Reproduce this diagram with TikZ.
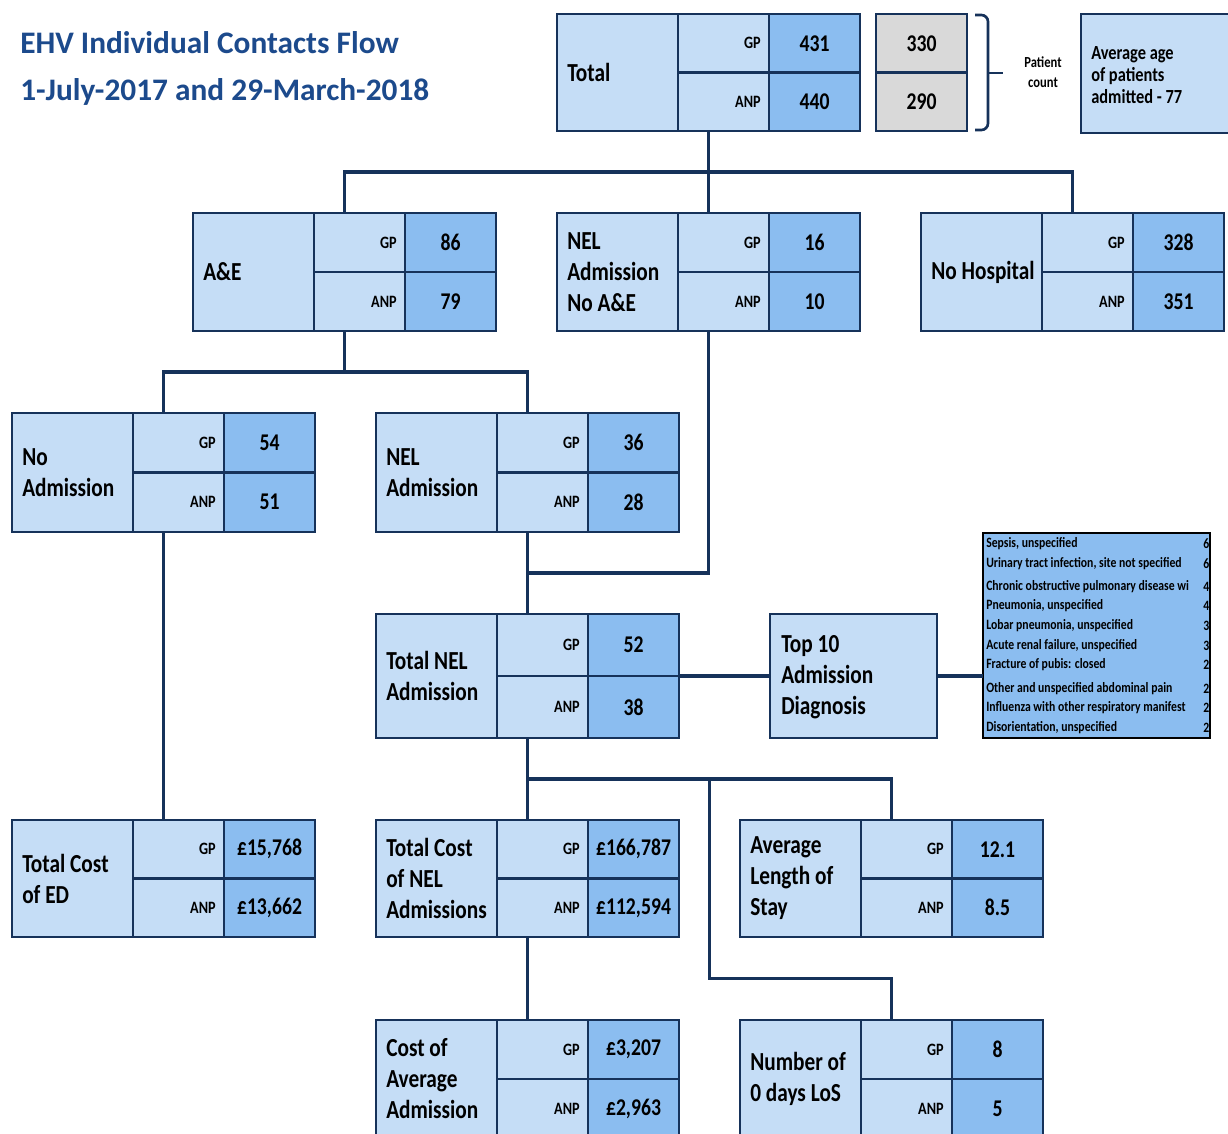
\documentclass[tikz,border=0pt]{standalone}
\usepackage{fontspec}
\setmainfont{Carlito}
\newfontfamily\cnd{Carlito}[FakeStretch=0.82]
\usetikzlibrary{calc}
\definecolor{lightc}{RGB}{197,221,246}
\definecolor{darkc}{RGB}{139,189,240}
\definecolor{navy}{RGB}{22,50,90}
\definecolor{grayc}{RGB}{217,217,217}
\definecolor{titlec}{RGB}{28,74,140}
\tikzset{
  cellst/.style={draw=navy, line width=2pt, line join=miter},
  conn/.style={draw=navy, line width=2.6pt},
  boxn/.style={inner sep=0pt, outer sep=0pt},
  lbl/.style={font=\cnd\bfseries\fontsize{19.5}{23.25}\selectfont, align=left, inner sep=0pt, text=black},
  val/.style={font=\cnd\bfseries\fontsize{18}{20}\selectfont, inner sep=0pt, text=black},
  tag/.style={font=\cnd\bfseries\fontsize{13}{14}\selectfont, inner sep=0pt, text=black},
  small/.style={font=\cnd\bfseries\fontsize{15}{16.5}\selectfont, align=left, inner sep=0pt, text=black},
  tiny/.style={font=\cnd\bfseries\fontsize{11.5}{15}\selectfont, align=center, inner sep=0pt, text=black},
  diagt/.style={font=\cnd\bfseries\fontsize{10.7}{11}\selectfont, inner sep=0pt, anchor=west, text=black},
  titlet/.style={font=\bfseries\fontsize{23.5}{26}\selectfont, inner sep=0pt, text=titlec, anchor=base west}
}
\newcommand{\statbox}[7]{%
  \node[boxn, minimum width=303*0.75pt, minimum height=#4*0.75pt, anchor=north west] (#1) at (#2,#3) {};
  \draw[cellst, fill=lightc] (#2,#3) rectangle (#2+212,#3+#4);
  \draw[cellst, fill=darkc] (#2+212,#3) rectangle (#2+303,#3+#4);
  \draw[cellst] (#2+121,#3) -- (#2+121,#3+#4) (#2+121,#3+#4/2) -- (#2+303,#3+#4/2);
  \node[lbl, anchor=west] (#1-lbl) at (#2+10,#3+#4/2) {#5};
  \node[tag, anchor=east] (#1-gpt) at (#2+204,#3+#4/4) {GP};
  \node[tag, anchor=east] (#1-anpt) at (#2+204,#3+3*#4/4) {ANP};
  \node[val] (#1-gp) at (#2+257.5,#3+#4/4) {#6};
  \node[val] (#1-anp) at (#2+257.5,#3+3*#4/4) {#7};
}
\begin{document}
\begin{tikzpicture}[x=0.75pt,y=-0.75pt]
\clip (0,0) rectangle (1228,1133);
\fill[white] (0,0) rectangle (1228,1133);

% title
\node[titlet] (title1) at (20,53) {EHV Individual Contacts Flow};
\node[titlet] (title2) at (20,100) {1-July-2017 and 29-March-2018};

% boxes
\statbox{total}{557}{14}{117}{Total}{431}{440}
\statbox{ae}{193}{213}{118}{A\&E}{86}{79}
\statbox{nelna}{557}{213}{118}{NEL\\Admission\\No A\&E}{16}{10}
\statbox{nohosp}{921}{213}{118}{No Hospital}{328}{351}
\statbox{noadm}{12}{413}{119}{No\\Admission}{54}{51}
\statbox{nela}{376}{413}{119}{NEL\\Admission}{36}{28}
\statbox{tnel}{376}{614}{124}{Total NEL\\Admission}{52}{38}
\statbox{tced}{12}{820}{117}{Total Cost\\of ED}{£15,768}{£13,662}
\statbox{tcnel}{376}{820}{117}{Total Cost\\of NEL\\Admissions}{£166,787}{£112,594}
\statbox{alos}{740}{820}{117}{Average\\Length of\\Stay}{12.1}{8.5}
\statbox{cavg}{376}{1020}{118}{Cost of\\Average\\Admission}{£3,207}{£2,963}
\statbox{nzero}{740}{1020}{118}{Number of\\0 days LoS}{8}{5}

% patient count boxes
\node[boxn, cellst, fill=grayc, minimum width=91*0.75pt, minimum height=58.5*0.75pt, anchor=north west, val] (pc1) at (876,14) {330};
\node[boxn, cellst, fill=grayc, minimum width=91*0.75pt, minimum height=58.5*0.75pt, anchor=north west, val] (pc2) at (876,72.5) {290};
\draw[navy, line width=2pt, rounded corners=5pt] (975,15) -- (988,15) -- (988,130) -- (975,130);
\draw[navy, line width=2pt] (988,73) -- (1003,73);
\node[tiny] (pcount) at (1043,72) {Patient\\count};

% average age
\node[boxn, cellst, fill=lightc, minimum width=160*0.75pt, minimum height=119*0.75pt, anchor=north west] (avgage) at (1081,14) {};
\node[small, anchor=west] (avgage-lbl) at (1091,75) {Average age\\of patients\\admitted - 77};

% top 10
\node[boxn, cellst, fill=lightc, minimum width=167*0.75pt, minimum height=124*0.75pt, anchor=north west] (top10) at (770,614) {};
\node[lbl, anchor=west] (top10-lbl) at (781,677) {Top 10\\Admission\\Diagnosis};

% diagnosis list
\node[boxn, draw=black, line width=2.2pt, fill=darkc, minimum width=227*0.75pt, minimum height=205*0.75pt, anchor=north west] (diag) at (983,533) {};
\begin{scope}
\clip (984.5,534.5) rectangle (1208.5,736.5);
\foreach \t/\n/\y [count=\i] in {Sepsis{,} unspecified/6/544,
  Urinary tract infection{,} site not specified/6/564,
  Chronic obstructive pulmonary disease wi/4/587,
  Pneumonia{,} unspecified/4/606,
  Lobar pneumonia{,} unspecified/3/626,
  Acute renal failure{,} unspecified/3/646,
  Fracture of pubis: closed/2/665,
  Other and unspecified abdominal pain/2/689,
  Influenza with other respiratory manifest/2/708,
  Disorientation{,} unspecified/2/728}{
  \node[diagt] (dg\i) at (986,\y) {\t};
  \node[diagt] (dn\i) at (1203,\y) {\n};
}
\end{scope}

% connectors
\draw[conn] (total.south) -- ($(total.south)!0.5!(nelna.north)$) coordinate (j1);
\draw[conn] (j1) -| (ae.north);
\draw[conn] (j1) -| (nohosp.north);
\draw[conn] (j1) -- (nelna.north);
\draw[conn] (ae.south) -- ($(ae.south)!0.5!(ae.south |- noadm.north)$) coordinate (j2);
\draw[conn] (j2) -| (noadm.north);
\draw[conn] (j2) -| (nela.north);
\draw[conn] (nela.south) -- (tnel.north);
\coordinate (j3) at ($(nela.south)!0.5!(tnel.north)$);
\draw[conn] (nelna.south) |- (j3);
\draw[conn] (noadm.south) -- (tced.north);
\draw[conn] (tnel.east) -- (top10.west);
\draw[conn] (top10.east) -- (top10.east -| diag.west);
\draw[conn] (tnel.south) -- ($(tnel.south)!0.5!(tcnel.north)$) coordinate (j4);
\draw[conn] (j4) -- (tcnel.north);
\draw[conn] (j4) -| (alos.north);
\coordinate (j5) at ($(tcnel.east)!0.5!(alos.west)$);
\coordinate (j6) at ($(tcnel.south)!0.5!(cavg.north)$);
\draw[conn] (j5 |- j4) -- (j5 |- j6) -| (nzero.north);
\draw[conn] (tcnel.south) -- (cavg.north);
\end{tikzpicture}
\end{document}
